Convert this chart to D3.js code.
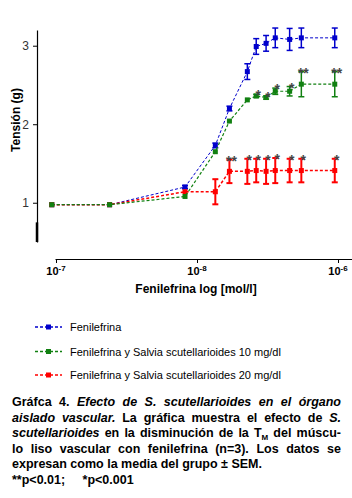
<!DOCTYPE html>
<html>
<head>
<meta charset="utf-8">
<script src="https://cdn.jsdelivr.net/npm/d3@7"></script>
<style>
  body { margin: 0; background: #fff; }
  svg { display: block; font-family: Arial, "Liberation Sans", sans-serif; }
</style>
</head>
<body>
<div id="chart"></div>
<script>
// concentración (log mol/l) de cada punto
const logConc = [-7.03, -6.62, -6.085, -5.87, -5.77, -5.643, -5.58, -5.51, -5.445, -5.343, -5.26, -5.023];

const fenilefrina    = [0.975, 0.975, 1.20, 1.73, 2.20, 2.67, 2.99, 3.03, 3.10, 3.08, 3.10, 3.10];
const fenilefrinaSEM = [0, 0, 0.02, 0.03, 0.03, 0.10, 0.10, 0.10, 0.125, 0.14, 0.125, 0.125];

const salvia10    = [0.975, 0.975, 1.08, 1.65, 2.04, 2.31, 2.36, 2.34, 2.42, 2.42, 2.51, 2.51];
const salvia10SEM = [0, 0, 0.01, 0.01, 0.01, 0.01, 0.02, 0.02, 0.04, 0.06, 0.16, 0.16];
const stars10     = ["", "", "", "", "", "", "*", "*", "*", "*", "**", "**"];

const salvia20    = [0.975, 0.975, 1.14, 1.14, 1.40, 1.40, 1.41, 1.40, 1.41, 1.41, 1.41, 1.41];
const salvia20SEM = [0, 0, 0, 0.16, 0.15, 0.16, 0.15, 0.16, 0.16, 0.15, 0.15, 0.15];
const stars20     = ["", "", "", "", "**", "*", "*", "*", "*", "*", "*", "*"];

const xTicks = [-7, -6, -5];
const xTickLabels = ["-7", "-8", "-6"];   // como aparecen en la figura
const yTicks = [1, 2, 3];

const legendLabels = [
    "Fenilefrina",
    "Fenilefrina y Salvia scutellarioides 10 mg/dl",
    "Fenilefrina y Salvia scutellarioides 20 mg/dl"
];

const captionLines = [
    [{t: "Gráfca 4. "}, {t: "Efecto de S. scutellarioides en el órgano", st: "i"}],
    [{t: "aislado vascular.", st: "i"}, {t: " La gráfica muestra el efecto de "}, {t: "S.", st: "i"}],
    [{t: "scutellarioides", st: "i"}, {t: " en la disminución de la T"}, {t: "M", st: "s"}, {t: " del múscu-"}],
    [{t: "lo liso vascular con fenilefrina (n=3). Los datos se"}],
    [{t: "expresan como la media del grupo ± SEM."}],
    [{t: "**p<0.01;     *p<0.001"}]
];

const width = 352, height = 498;

const svg = d3.select("#chart")
    .append("svg")
    .attr("width", width)
    .attr("height", height);

let x = d3.scaleLinear()
    .domain([-7, -5])
    .range([56, 338]);

let y = d3.scaleLinear()
    .domain([0.5, 3.2])
    .range([242, 30]);

// eje x (la línea llega al borde derecho)
const xAxisScale = x.copy().domain([x.invert(55), x.invert(352)]).range([55, 352]);
const xAxis = svg.append("g")
    .attr("transform", "translate(0,259)")
    .call(d3.axisBottom(xAxisScale).tickValues(xTicks).tickSize(4).tickSizeOuter(0).tickFormat(""));
xAxis.select(".domain").attr("stroke", "#000").attr("stroke-width", 1.2);

xTicks.forEach((v, i) => {
    let t = svg.append("text")
        .attr("x", x(v))
        .attr("y", 275)
        .attr("text-anchor", "middle")
        .attr("font-size", 11)
        .attr("font-weight", "bold");
    t.append("tspan").text("10");
    t.append("tspan").attr("dy", -4).attr("font-size", 8).text(xTickLabels[i]);
});

svg.append("text")
    .attr("x", 196)
    .attr("y", 293)
    .attr("text-anchor", "middle")
    .attr("font-size", 12)
    .attr("font-weight", "bold")
    .text("Fenilefrina log [mol/l]");

// eje y
const yAxis = svg.append("g")
    .attr("transform", "translate(37,0)")
    .call(d3.axisLeft(y).tickValues(yTicks).tickFormat(d3.format("d"))
        .tickSize(4).tickSizeOuter(0).tickPadding(4));
yAxis.select(".domain").attr("stroke-width", 1.2);
yAxis.selectAll(".tick text").attr("font-size", 12).attr("fill", "#333").attr("font-family", null);

svg.append("line")
    .attr("x1", 37).attr("x2", 37)
    .attr("y1", y(0.75)).attr("y2", y(0.5))
    .attr("stroke", "#000")
    .attr("stroke-width", 2.5);

svg.append("text")
    .attr("transform", "translate(20,120) rotate(-90)")
    .attr("text-anchor", "middle")
    .attr("font-size", 12)
    .attr("font-weight", "bold")
    .text("Tensión (g)");

// series
const series = [
    {vals: fenilefrina, sem: fenilefrinaSEM, stars: null, color: "#0000cc", w: 1},
    {vals: salvia20, sem: salvia20SEM, stars: stars20, color: "#ff0000", w: 1.5},
    {vals: salvia10, sem: salvia10SEM, stars: stars10, color: "#118011", w: 1.2}
];

const line = d3.line()
    .x(d => x(d.x))
    .y(d => y(d.y));

series.forEach(s => {
    const pts = logConc.map((c, i) => ({x: c, y: s.vals[i], e: s.sem[i], star: s.stars ? s.stars[i] : ""}));
    const g = svg.append("g");

    g.append("path")
        .datum(pts)
        .attr("fill", "none")
        .attr("stroke", s.color)
        .attr("stroke-width", s.w)
        .attr("stroke-dasharray", "3,2")
        .attr("d", line);

    const eb = g.selectAll(".err")
        .data(pts.filter(d => d.e > 0.015))
        .join("g")
        .attr("class", "err")
        .attr("stroke", s.color)
        .attr("stroke-width", s.color === "#ff0000" ? 2 : 1.5);

    eb.append("line")
        .attr("x1", d => x(d.x)).attr("x2", d => x(d.x))
        .attr("y1", d => y(d.y - d.e)).attr("y2", d => y(d.y + d.e));
    eb.append("line")
        .attr("x1", d => x(d.x) - 3).attr("x2", d => x(d.x) + 3)
        .attr("y1", d => y(d.y + d.e)).attr("y2", d => y(d.y + d.e));
    eb.append("line")
        .attr("x1", d => x(d.x) - 3).attr("x2", d => x(d.x) + 3)
        .attr("y1", d => y(d.y - d.e)).attr("y2", d => y(d.y - d.e));

    g.selectAll(".pt")
        .data(pts)
        .join("rect")
        .attr("class", "pt")
        .attr("x", d => x(d.x) - 2.5)
        .attr("y", d => y(d.y) - 2.5)
        .attr("width", 5)
        .attr("height", 5)
        .attr("fill", s.color);

    g.selectAll(".star")
        .data(pts.filter(d => d.star))
        .join("text")
        .attr("class", "star")
        .attr("x", d => x(d.x) + 2)
        .attr("y", d => y(d.y + d.e) + 6)
        .attr("text-anchor", "middle")
        .attr("font-size", 14)
        .attr("font-weight", "bold")
        .attr("fill", "#444")
        .text(d => d.star);
});

// leyenda
const legendColors = ["#0000cc", "#118011", "#ff0000"];
const legendY = [327, 351.5, 375];
legendLabels.forEach((lab, i) => {
    svg.append("line")
        .attr("x1", 35).attr("x2", 62)
        .attr("y1", legendY[i]).attr("y2", legendY[i])
        .attr("stroke", legendColors[i])
        .attr("stroke-width", 1.5)
        .attr("stroke-dasharray", "3,2");
    svg.append("rect")
        .attr("x", 46).attr("y", legendY[i] - 2.5)
        .attr("width", 5).attr("height", 5)
        .attr("fill", legendColors[i]);
    svg.append("text")
        .attr("x", 70)
        .attr("y", legendY[i] + 4)
        .attr("font-size", 11)
        .text(lab);
});

// pie de figura (justificado)
function toWords(segs) {
    const words = [];
    let cur = null;
    segs.forEach(s => {
        s.t.split(" ").forEach((p, k) => {
            if (k > 0) cur = null;
            if (p === "") return;
            if (!cur) { cur = []; words.push(cur); }
            cur.push({t: p, st: s.st});
        });
    });
    return words;
}

function addPieces(t, pieces) {
    pieces.forEach(p => {
        const ts = t.append("tspan").text(p.t);
        if (p.st === "i") ts.attr("font-style", "italic");
        if (p.st === "s") ts.attr("font-size", 8).attr("dy", 3);
    });
}

const capLeft = 12, capRight = 341, capTop = 406, capStep = 15.5;
const cap = svg.append("g")
    .attr("font-size", 12.5)
    .attr("font-weight", "bold")
    .attr("fill", "#000");

captionLines.forEach((segs, li) => {
    const yy = capTop + li * capStep;
    if (li >= 4) {
        const t = cap.append("text")
            .attr("x", capLeft).attr("y", yy)
            .attr("xml:space", "preserve")
            .style("white-space", "pre");
        addPieces(t, segs);
        return;
    }
    const words = toWords(segs);
    const nodes = words.map(w => {
        const t = cap.append("text").attr("y", yy);
        addPieces(t, w);
        return t;
    });
    const widths = nodes.map(n => n.node().getComputedTextLength());
    const gap = (capRight - capLeft - d3.sum(widths)) / (nodes.length - 1);
    let cx = capLeft;
    nodes.forEach((n, k) => {
        n.attr("x", cx);
        cx += widths[k] + gap;
    });
});
</script>
</body>
</html>
